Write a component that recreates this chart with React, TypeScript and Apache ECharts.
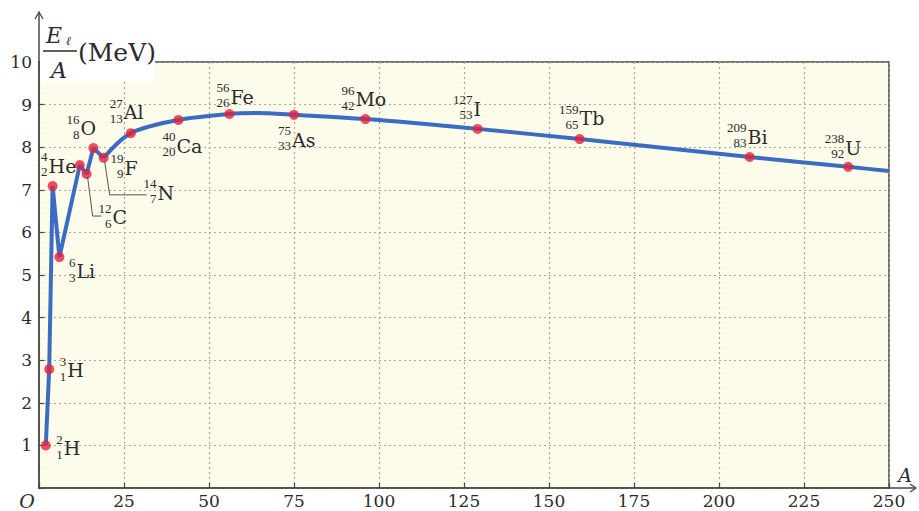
import React, { useEffect, useRef } from "react";
import * as echarts from "echarts";

// Marker points (A, binding energy per nucleon in MeV)
const markerA = [2, 3, 4, 6, 12, 14, 16, 19, 27, 41, 56, 75, 96, 129, 159, 209, 238];
const markerE = [1.0, 2.79, 7.09, 5.42, 7.58, 7.37, 7.98, 7.75, 8.33, 8.64, 8.78, 8.76, 8.66, 8.43, 8.19, 7.77, 7.54];

// Curve: straight segments for light nuclei, smooth curve afterwards
const lightA = [2, 3, 4, 6, 12, 14, 16, 19];
const lightE = [1.0, 2.79, 7.09, 5.42, 7.58, 7.37, 7.98, 7.75];
const heavyA = [19, 27, 41, 56, 64, 75, 96, 129, 159, 209, 238, 250];
const heavyE = [7.75, 8.33, 8.64, 8.78, 8.8, 8.76, 8.66, 8.43, 8.19, 7.77, 7.54, 7.44];

// Nuclide labels
const labelSymbols = ["H", "H", "He", "Li", "C", "N", "O", "F", "Al", "Ca", "Fe", "As", "Mo", "I", "Tb", "Bi", "U"];
const labelMass = ["2", "3", "4", "6", "12", "14", "16", "19", "27", "40", "56", "75", "96", "127", "159", "209", "238"];
const labelZ = ["1", "1", "2", "3", "6", "7", "8", "9", "13", "20", "26", "33", "42", "53", "65", "83", "92"];
const labelAnchor = [0, 1, 2, 3, 5, 7, 6, 7, 8, 9, 10, 11, 12, 13, 14, 15, 16];

// Layout (pixel offsets of the label from its anchor marker)
const labelOffsets: [number, number][] = [
  [18, 3], [18, 1], [-4, -20], [17, 14], [26, 43], [54, 35], [-13, -20], [21, 10],
  [-7, -21], [-2, 26], [1, -17], [-2, 25], [-10, -20], [-4, -20], [0, -21], [-2, -20], [-3, -19],
];
const leaders: Record<number, [number, number][]> = {
  4: [[1, 3], [6, 42], [15, 42]],
  5: [[1, 3], [6, 37], [43, 37]],
};

const SERIF = "'DejaVu Serif', serif";
const SMALL = "'Liberation Serif', serif";
const TEXT = "#2b2b2b";
const AXIS = "#474747";

export default function App() {
  const ref = useRef<HTMLDivElement>(null);
  useEffect(() => {
    if (!ref.current) return;
    const chart = echarts.init(ref.current, undefined, { renderer: "svg" });
    const option: any = {
      animation: false,
      backgroundColor: "#ffffff",
      grid: {
        left: 39, right: 30, top: 62, bottom: 23, show: true,
        backgroundColor: "#fdfbe9", borderColor: AXIS, borderWidth: 1.5,
      },
      xAxis: {
        type: "value", min: 0, max: 250, interval: 25,
        axisLine: { show: true, lineStyle: { color: AXIS, width: 1.5 } },
        axisTick: { show: true, inside: true, length: 5, lineStyle: { color: AXIS, width: 1.2 } },
        axisLabel: {
          formatter: (v: number) => (v === 0 ? "" : String(v)),
          color: TEXT, fontFamily: SERIF, fontSize: 17, margin: 4,
        },
        splitLine: { show: true, lineStyle: { type: [2, 3], color: "#aca798", width: 1.2 } },
      },
      yAxis: {
        type: "value", min: 0, max: 10, interval: 1,
        axisLine: { show: true, lineStyle: { color: AXIS, width: 1.5 } },
        axisTick: { show: true, inside: true, length: 5, lineStyle: { color: AXIS, width: 1.2 } },
        axisLabel: {
          formatter: (v: number) => (v === 0 ? "" : String(v)),
          color: TEXT, fontFamily: SERIF, fontSize: 17, margin: 7,
        },
        splitLine: { show: true, lineStyle: { type: [2, 3], color: "#aca798", width: 1.2 } },
      },
      series: [
        {
          type: "line", data: lightA.map((a, i) => [a, lightE[i]]), symbol: "none",
          lineStyle: { color: "#3b6cc1", width: 4 }, z: 2,
        },
        {
          type: "line", data: heavyA.map((a, i) => [a, heavyE[i]]), symbol: "none",
          smooth: 0.3,
          lineStyle: { color: "#3b6cc1", width: 4 }, z: 2,
        },
        {
          type: "scatter", data: markerA.map((a, i) => [a, markerE[i]]),
          symbolSize: 10, itemStyle: { color: "#e2233f" }, z: 3,
        },
      ],
    };
    chart.setOption(option);

    const px = (a: number, e: number) => chart.convertToPixel({ gridIndex: 0 }, [a, e]) as number[];
    const o = px(0, 0);
    const tl = px(0, 10);
    const br = px(250, 0);
    const ox = o[0], oy = o[1], top = tl[1];
    const g: any[] = [];

    // white label box over the top-left of the plot
    g.push({ type: "rect", z: 50, shape: { x: ox + 1, y: top - 2, width: 155 - ox - 1, height: 82 - top + 2 }, style: { fill: "#ffffff" } });
    // y axis extension + arrow
    g.push({ type: "line", z: 51, shape: { x1: ox, y1: top, x2: ox, y2: 12 }, style: { stroke: AXIS, lineWidth: 1.5 } });
    g.push({ type: "polyline", z: 51, shape: { points: [[ox - 4, 19], [ox, 12], [ox + 4, 19]] }, style: { stroke: AXIS, lineWidth: 1.3, fill: null } });
    // x axis extension + arrow
    g.push({ type: "line", z: 51, shape: { x1: br[0], y1: oy, x2: 916, y2: oy }, style: { stroke: AXIS, lineWidth: 1.5 } });
    g.push({ type: "polyline", z: 51, shape: { points: [[910, oy - 4], [916, oy], [910, oy + 4]] }, style: { stroke: AXIS, lineWidth: 1.3, fill: null } });
    // origin and axis names
    g.push({ type: "text", z: 52, x: ox - 12, y: oy + 13, style: { text: "O", font: `italic 19px ${SERIF}`, fill: TEXT, textAlign: "center", textVerticalAlign: "middle" } });
    g.push({ type: "text", z: 52, x: 905, y: oy - 13, style: { text: "A", font: `italic 19px ${SERIF}`, fill: TEXT, textAlign: "center", textVerticalAlign: "middle" } });
    g.push({ type: "text", z: 52, x: ox + 7, y: 35, style: { text: "E", font: `italic 22px ${SERIF}`, fill: TEXT, textAlign: "left", textVerticalAlign: "middle" } });
    g.push({ type: "text", z: 52, x: ox + 27, y: 41, style: { text: "ℓ", font: `italic 12px ${SERIF}`, fill: TEXT, textAlign: "left", textVerticalAlign: "middle" } });
    g.push({ type: "line", z: 52, shape: { x1: ox + 4, y1: 51, x2: ox + 38, y2: 51 }, style: { stroke: TEXT, lineWidth: 1.4 } });
    g.push({ type: "text", z: 52, x: ox + 20, y: 70, style: { text: "A", font: `italic 22px ${SERIF}`, fill: TEXT, textAlign: "center", textVerticalAlign: "middle" } });
    g.push({ type: "text", z: 52, x: ox + 39, y: 52, style: { text: "(MeV)", font: `25px ${SERIF}`, fill: TEXT, textAlign: "left", textVerticalAlign: "middle" } });

    // nuclide labels
    labelSymbols.forEach((sym, i) => {
      const k = labelAnchor[i];
      const p = px(markerA[k], markerE[k]);
      const [dx, dy] = labelOffsets[i];
      g.push({
        type: "group", z: 40, x: p[0] + dx, y: p[1] + dy,
        children: [
          { type: "text", x: -1, y: -9, style: { text: labelMass[i], font: `13px ${SMALL}`, fill: TEXT, textAlign: "right", textVerticalAlign: "middle" } },
          { type: "text", x: -1, y: 6, style: { text: labelZ[i], font: `13px ${SMALL}`, fill: TEXT, textAlign: "right", textVerticalAlign: "middle" } },
          { type: "text", x: 0, y: 0, style: { text: sym, font: `19px ${SERIF}`, fill: TEXT, textAlign: "left", textVerticalAlign: "middle" } },
        ],
      });
      const ld = leaders[i];
      if (ld) {
        g.push({
          type: "polyline", z: 39,
          shape: { points: ld.map(([lx, ly]) => [p[0] + lx, p[1] + ly]) },
          style: { stroke: "#555", lineWidth: 1, fill: null },
        });
      }
    });

    chart.setOption({ graphic: g });
    return () => chart.dispose();
  }, []);
  return <div ref={ref} style={{ width: 919, height: 511, position: "fixed", left: 0, top: 0 }} />;
}
